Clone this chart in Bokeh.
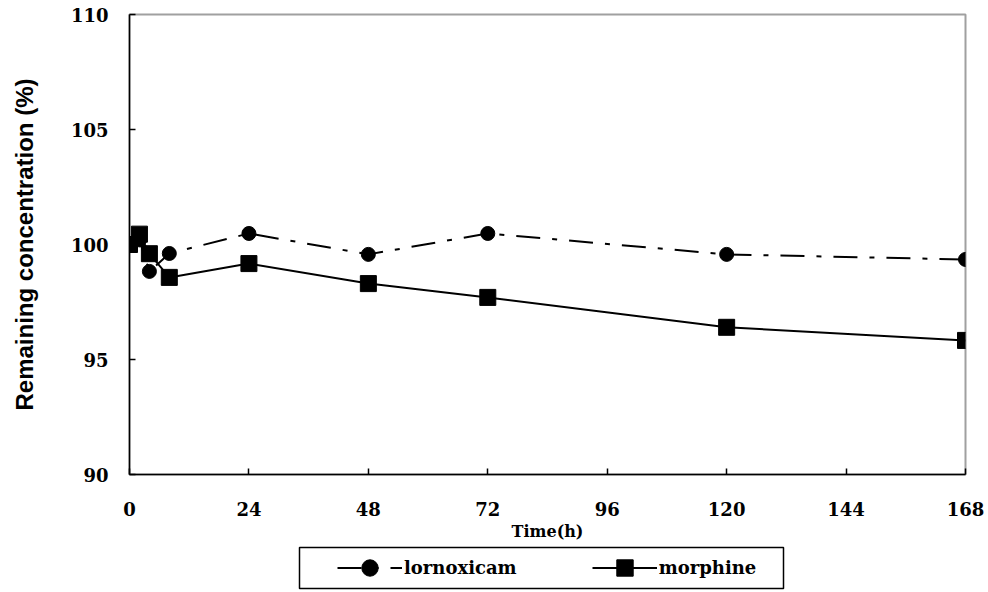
from bokeh.plotting import figure
from bokeh.models import Range1d, FixedTicker, Legend, LegendItem, BoxAnnotation
from bokeh.layouts import column
from bokeh.embed import file_html
from bokeh.resources import INLINE

# ---- data ----
hours_lor = [0, 2, 4, 8, 24, 48, 72, 120, 168]
lornoxicam = [100.0, 100.2, 98.83, 99.61, 100.48, 99.57, 100.48, 99.57, 99.35]
hours_mor = [0, 2, 4, 8, 24, 48, 72, 120, 168]
morphine = [100.0, 100.45, 99.6, 98.57, 99.17, 98.3, 97.7, 96.4, 95.83]
x_ticks = [0, 24, 48, 72, 96, 120, 144, 168]
y_ticks = [90, 95, 100, 105, 110]
series_names = ["lornoxicam", "morphine"]

W = 988
H_MAIN, H_LEG = 545, 47
BORDER_L, BORDER_R = 129, 23

LOR_STYLE = dict(line_color="black", line_width=2, line_dash="24 12 5 12")
MOR_STYLE = dict(line_color="black", line_width=2)


def draw_series(fig):
    r1 = fig.line(hours_lor, lornoxicam, **LOR_STYLE)
    s1 = fig.scatter(hours_lor, lornoxicam, marker="circle", size=14,
                     fill_color="black", line_color="black")
    r2 = fig.line(hours_mor, morphine, **MOR_STYLE)
    s2 = fig.scatter(hours_mor, morphine, marker="square", size=16,
                     fill_color="black", line_color="black")
    return r1, s1, r2, s2


# ---- main chart ----
p = figure(width=W, height=H_MAIN, output_backend="svg", toolbar_location=None,
           x_range=Range1d(0, 168), y_range=Range1d(90, 110),
           min_border_left=BORDER_L, min_border_right=BORDER_R, min_border_top=14,
           min_border_bottom=71)
p.grid.visible = False
p.outline_line_color = "#a0a0a0"
p.outline_line_width = 2

p.xaxis.ticker = FixedTicker(ticks=x_ticks)
p.yaxis.ticker = FixedTicker(ticks=y_ticks)
for ax in (p.xaxis[0], p.yaxis[0]):
    ax.major_tick_in = 6
    ax.major_tick_out = 0
    ax.minor_tick_line_color = None
    ax.axis_line_color = "black"
    ax.axis_line_width = 1.5
    ax.major_tick_line_color = "black"
    ax.major_tick_line_width = 1.5
    ax.major_label_text_font = "DejaVu Serif"
    ax.major_label_text_font_style = "bold"
    ax.major_label_text_font_size = "18px"
    ax.major_label_text_color = "black"
p.xaxis.major_label_standoff = 27
p.yaxis.major_label_standoff = 21

p.xaxis.axis_label = "Time(h)"
p.xaxis.axis_label_text_font = "DejaVu Serif"
p.xaxis.axis_label_text_font_style = "bold"
p.xaxis.axis_label_text_font_size = "16px"
p.xaxis.axis_label_standoff = 3
p.xaxis.axis_label_text_color = "black"

p.yaxis.axis_label = "Remaining concentration (%)"
p.yaxis.axis_label_text_font = "Liberation Sans"
p.yaxis.axis_label_text_font_style = "bold"
p.yaxis.axis_label_text_font_size = "24px"
p.yaxis.axis_label_standoff = 30
p.yaxis.axis_label_text_color = "black"

draw_series(p)

# ---- legend strip: same borders as the chart, ranges in pixels ----
q = figure(width=W, height=H_LEG, output_backend="svg", toolbar_location=None,
           x_range=Range1d(0, W - BORDER_L - BORDER_R), y_range=Range1d(0, H_LEG),
           x_axis_type=None, y_axis_type=None,
           min_border_left=BORDER_L, min_border_right=BORDER_R, min_border_top=0,
           min_border_bottom=0)
q.grid.visible = False
q.outline_line_color = None
q.background_fill_alpha = 0
# series drawn here only for the legend glyphs (values fall outside this strip)
lr1, ls1, lr2, ls2 = draw_series(q)

q.add_layout(BoxAnnotation(left=170, right=654, bottom=4, top=45,
                           fill_alpha=0, line_color="black", line_width=1.5,
                           line_alpha=1))

legend = Legend(items=[LegendItem(label=series_names[0], renderers=[lr1, ls1]),
                       LegendItem(label=series_names[1], renderers=[lr2, ls2])],
                orientation="horizontal", location=(208, 4),
                glyph_width=65, glyph_height=41, label_standoff=2, spacing=75,
                padding=0, margin=0, border_line_alpha=0,
                background_fill_alpha=0,
                label_text_font="DejaVu Serif", label_text_font_style="bold",
                label_text_font_size="18px", label_text_color="black")
q.add_layout(legend, "center")

open("out.html", "w").write(file_html(column(p, q, spacing=0), INLINE))
